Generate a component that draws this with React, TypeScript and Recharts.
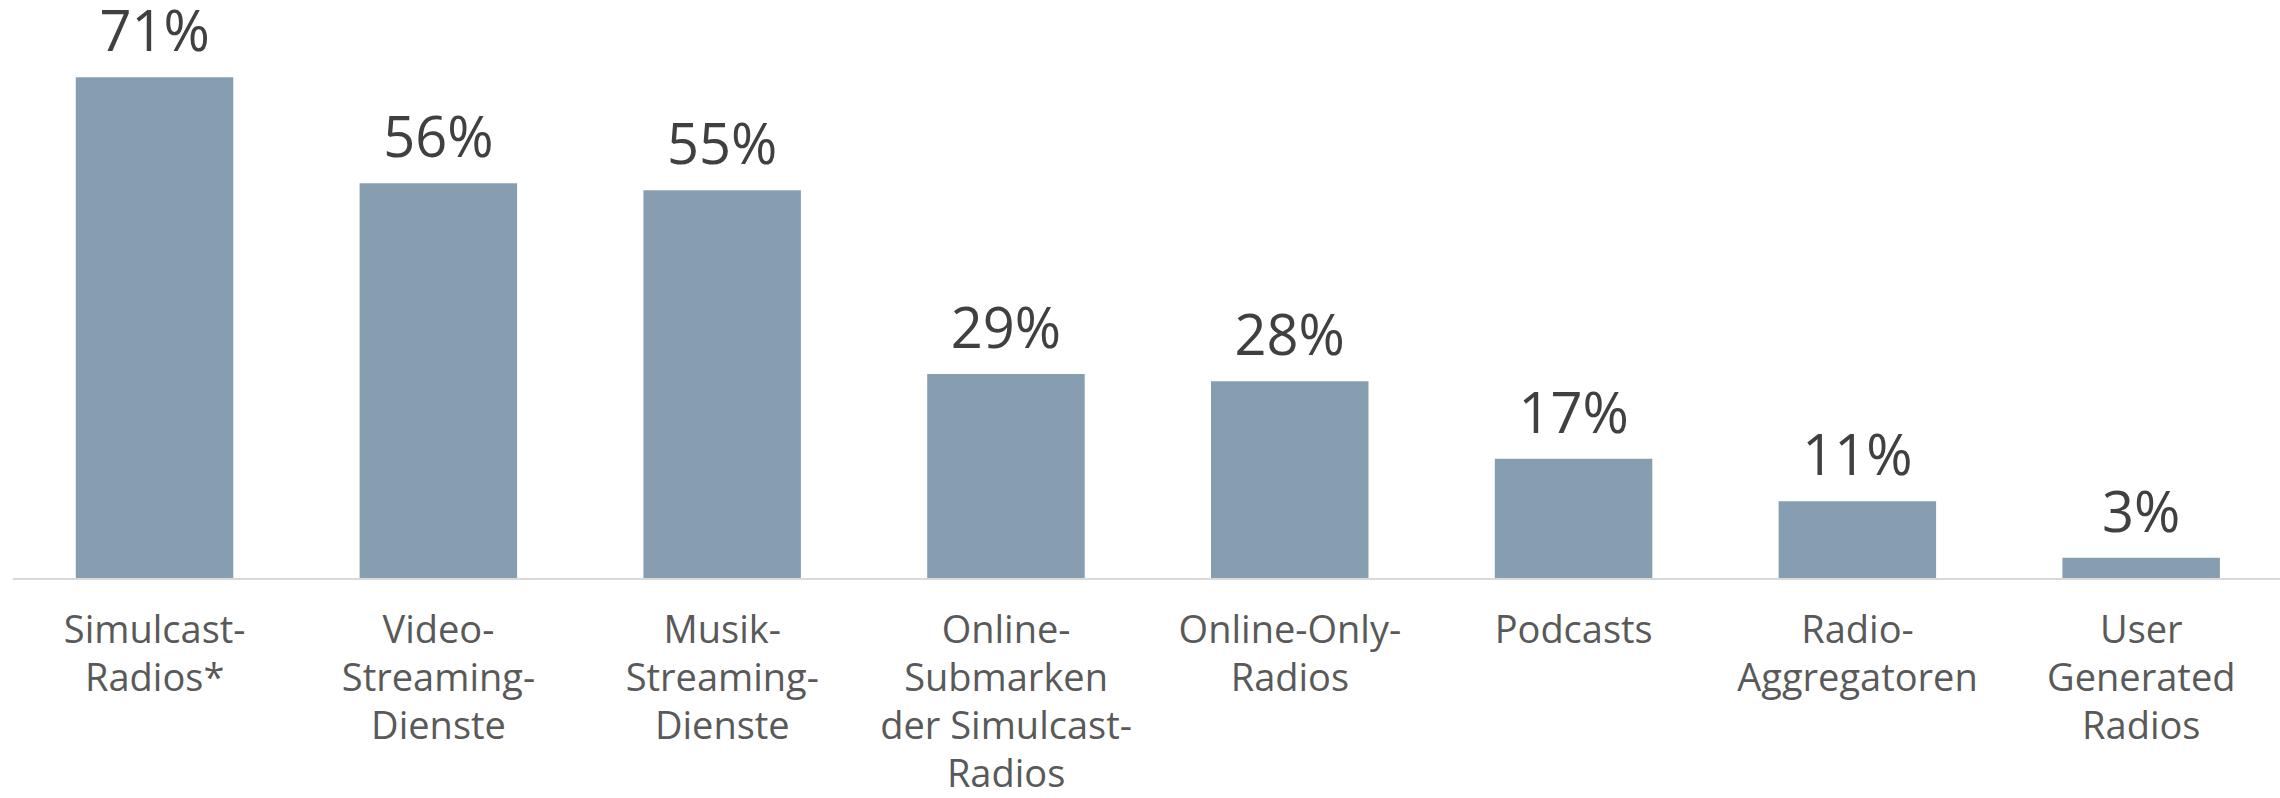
import React from "react";
import { BarChart, Bar, XAxis, YAxis, LabelList } from "recharts";

const categories: string[] = [
  "Simulcast-Radios*",
  "Video-Streaming-Dienste",
  "Musik-Streaming-Dienste",
  "Online-Submarken der Simulcast-Radios",
  "Online-Only-Radios",
  "Podcasts",
  "Radio-Aggregatoren",
  "User Generated Radios",
];

const tickLines: string[][] = [
  ["Simulcast-", "Radios*"],
  ["Video-", "Streaming-", "Dienste"],
  ["Musik-", "Streaming-", "Dienste"],
  ["Online-", "Submarken", "der Simulcast-", "Radios"],
  ["Online-Only-", "Radios"],
  ["Podcasts"],
  ["Radio-", "Aggregatoren"],
  ["User", "Generated", "Radios"],
];

const values: number[] = [71, 56, 55, 29, 28, 17, 11, 3];

const data = categories.map((c, i) => ({ name: c, value: values[i], idx: i }));

const FONT = "'Open Sans', 'Noto Sans', sans-serif";

const CustomTick = (props: any) => {
  const { x, y, index } = props;
  const lines = tickLines[index] || [];
  return (
    <text
      x={x}
      y={y}
      textAnchor="middle"
      fill="#595959"
      fontFamily={FONT}
      fontSize={38}
    >
      {lines.map((l, i) => (
        <tspan key={i} x={x} y={y + 64 + i * 48}>
          {l}
        </tspan>
      ))}
    </text>
  );
};

const ValueLabel = (props: any) => {
  const { x, y, width, value } = props;
  return (
    <text
      x={x + width / 2}
      y={y - 26}
      textAnchor="middle"
      fill="#404040"
      fontFamily={FONT}
      fontSize={56}
    >
      {`${value}%`}
    </text>
  );
};

export default function App() {
  return (
    <div
      style={{
        position: "absolute",
        left: 0,
        top: 0,
        width: 2280,
        height: 798,
        overflow: "hidden",
        background: "#ffffff",
      }}
    >
      <BarChart
        width={2284}
        height={798}
        data={data}
        margin={{ top: 13.7, right: 0.8, bottom: 0, left: 12.8 }}
        barSize={157.5}
      >
        <YAxis hide domain={[0, 80]} />
        <XAxis
          dataKey="name"
          height={219}
          interval={0}
          tickLine={false}
          tickSize={0}
          tickMargin={0}
          axisLine={{ stroke: "#d9d9d9", strokeWidth: 2 }}
          tick={<CustomTick />}
        />
        <Bar dataKey="value" fill="#879eb1" isAnimationActive={false}>
          <LabelList dataKey="value" content={<ValueLabel />} />
        </Bar>
      </BarChart>
    </div>
  );
}
